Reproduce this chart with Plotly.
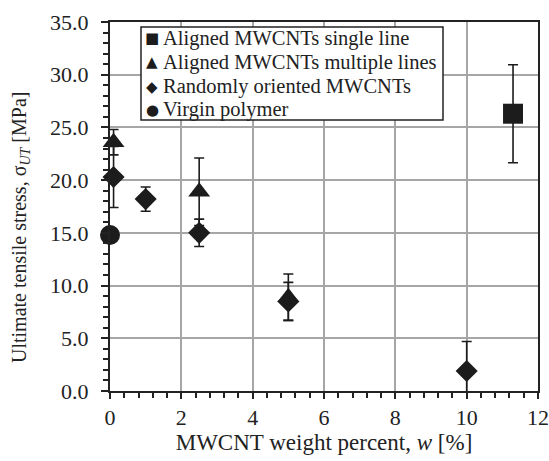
import plotly.graph_objects as go

# Data
single_x = [11.3]
single_y = [26.3]
single_err = [4.65]

multi_x = [0.1, 2.5, 5.0]
multi_y = [23.6, 18.9, 8.9]
multi_err = [1.2, 3.2, 2.2]

random_x = [0.1, 1.0, 2.5, 5.0, 10.0]
random_y = [20.3, 18.2, 15.0, 8.5, 1.9]
random_err = [2.9, 1.15, 1.3, 1.8, 2.8]

virgin_x = [0.0]
virgin_y = [14.8]

names = ["Aligned MWCNTs single line", "Aligned MWCNTs multiple lines",
         "Randomly oriented MWCNTs", "Virgin polymer"]
legend_glyphs = ["\u25A0", "\u25B2", "\u25C6", "\u25CF"]
x_title = "MWCNT weight percent, <i>w</i> [%]"
y_title = "Ultimate tensile stress, σ<sub><i>UT</i></sub> [MPa]"

FONT = "'Liberation Serif', 'Times New Roman', Times, serif"
MC = "#1c1c1c"
W, H = 549, 461
ML, MR, MT, MB = 110, 11, 22, 70
PW, PH = W - ML - MR, H - MT - MB

def px(xp):  # window pixel -> paper fraction
    return (xp - ML) / PW

def py(yp):
    return (H - MB - yp) / PH

fig = go.Figure()

def add(x, y, err, name, symbol, size):
    kw = {}
    if err is not None:
        kw["error_y"] = dict(type="data", array=err, visible=True,
                             color=MC, thickness=1.6, width=5)
    fig.add_trace(go.Scatter(x=x, y=y, mode="markers", name=name,
                             marker=dict(symbol=symbol, size=size, color=MC,
                                         line=dict(width=0)),
                             cliponaxis=False, showlegend=False, **kw))

add(single_x, single_y, single_err, names[0], "square", 20)
add(multi_x, multi_y, multi_err, names[1], "triangle-up", 19)
add(random_x, random_y, random_err, names[2], "diamond", 17)
add(virgin_x, virgin_y, None, names[3], "circle", 20)

# Legend box (Excel-style, drawn as a framed text block)
fig.add_shape(type="rect", xref="paper", yref="paper",
              x0=px(141), x1=px(443), y0=py(120), y1=py(27),
              line=dict(color="#222", width=1.5), fillcolor="white",
              layer="above")
row_y = [38.5, 62.5, 86.5, 110]
for g, name, ry in zip(legend_glyphs, names, row_y):
    fig.add_annotation(xref="paper", yref="paper", x=px(152), y=py(ry),
                       text=g, showarrow=False, xanchor="center",
                       yanchor="middle",
                       font=dict(family="DejaVu Sans", size=15, color=MC))
    fig.add_annotation(xref="paper", yref="paper", x=px(161), y=py(ry),
                       text=name, showarrow=False, xanchor="left",
                       yanchor="middle",
                       font=dict(family=FONT, size=20.5, color="#222"))

# y-axis title
fig.add_annotation(xref="paper", yref="paper", x=px(21), y=py(228),
                   text=y_title, textangle=-90, showarrow=False,
                   xanchor="center", yanchor="middle",
                   font=dict(family=FONT, size=20, color="#222"))

fig.update_layout(
    width=W, height=H,
    margin=dict(l=ML, r=MR, t=MT, b=MB),
    paper_bgcolor="white", plot_bgcolor="white",
    font=dict(family=FONT, size=22, color="#222"),
    showlegend=False,
    xaxis=dict(range=[0, 12], dtick=2, tick0=0, automargin=False,
               showgrid=True, gridcolor="#a6a6a6", gridwidth=1.5,
               showline=True, linecolor="#222", linewidth=2, mirror=True,
               ticks="outside", ticklen=6, tickwidth=1.5, tickcolor="#222",
               minor=dict(dtick=0.4, ticks="outside", ticklen=5,
                          tickcolor="#222", showgrid=False),
               zeroline=False, tickfont=dict(family=FONT, size=22),
               title=dict(text=x_title,
                          font=dict(family=FONT, size=23), standoff=0)),
    yaxis=dict(range=[0, 35], dtick=5, tick0=0, tickformat=".1f",
               automargin=False,
               showgrid=True, gridcolor="#a6a6a6", gridwidth=1.5,
               showline=True, linecolor="#222", linewidth=2, mirror=True,
               ticks="outside", ticklen=7, tickwidth=1.5, tickcolor="#222",
               minor=dict(dtick=1, ticks="outside", ticklen=5,
                          tickcolor="#222", showgrid=False),
               zeroline=False, tickfont=dict(family=FONT, size=22),
               ticklabelstandoff=8),
)

fig.write_html("out.html",
               config={"displayModeBar": False},
               post_script="document.body.style.margin='0px';"
                           "document.body.style.overflow='hidden';")
